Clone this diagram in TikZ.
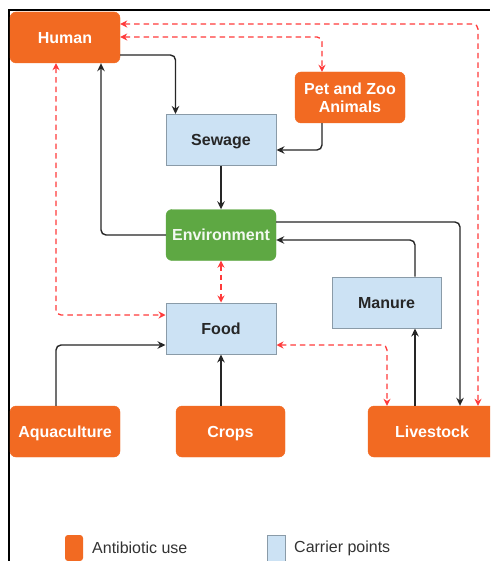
\documentclass[tikz,border=0pt]{standalone}
\usepackage{fontspec}
\setmainfont{Liberation Sans}
\usetikzlibrary{arrows.meta}
\definecolor{orng}{HTML}{F26A22}
\definecolor{grn}{HTML}{5EA843}
\definecolor{lblue}{HTML}{CCE2F4}
\definecolor{bgray}{HTML}{8A9BA8}
\definecolor{rdash}{HTML}{FF3B3B}
\tikzset{
  base/.style={minimum width=110pt, minimum height=51pt, inner sep=0pt, align=center,
    text height=11.5pt, text depth=0pt,
    font=\fontsize{16}{18}\selectfont\bfseries},
  use/.style={base, fill=orng, draw=orng, rounded corners=6pt, text=white},
  envbox/.style={base, fill=grn, draw=grn, rounded corners=6pt, text=white!92!grn},
  carrier/.style={base, fill=lblue, draw=bgray, line width=1pt, text=black!85},
  arr/.style={draw=black!85, line width=1.4pt, rounded corners=5pt, -{Stealth[length=8pt,width=7.5pt]}},
  rarr/.style={draw=rdash, line width=1.3pt, dash pattern=on 5.5pt off 4pt, rounded corners=5pt,
    {Stealth[length=7pt,width=7pt]}-{Stealth[length=7pt,width=7pt]}},
  legtext/.style={anchor=west, font=\fontsize{16}{18}\selectfont, text=black!80, inner sep=0pt}
}
\begin{document}
\begin{tikzpicture}[x=1pt,y=-1pt]
\useasboundingbox (0,0) rectangle (490,561);
\clip (0,0) rectangle (490,561);
\fill[white] (0,0) rectangle (490,561);
\draw[line width=1.2pt] (9,561) -- (9,10) -- (490,10);

\node[use] (human) at (65,37.5) {Human};
\node[use, text height=, text depth=] (pet) at (350,97.5) {Pet and Zoo\\Animals};
\node[carrier] (sewage) at (221,140) {Sewage};
\node[envbox] (env) at (221,235) {Environment};
\node[carrier, minimum width=109pt] (manure) at (386.5,302.5) {Manure};
\node[carrier] (food) at (221,328.5) {Food};
\node[use] (aqua) at (65,431.5) {Aquaculture};
\node[use, minimum width=109pt] (crops) at (230.5,431.5) {Crops};
\node[use, minimum width=128pt] (live) at (432,431.5) {Livestock};

% black flows
\draw[arr] ([yshift=-17.5pt]human.east) -| ([xshift=10pt]sewage.north west);
\draw[arr] ([xshift=-28pt]pet.south) |- ([yshift=-10pt]sewage.east);
\draw[arr] (sewage) -- (env);
\draw[arr] (env.west) -| ([xshift=36pt]human.south);
\draw[arr] ([yshift=13pt]env.east) -| ([xshift=28pt]live.north);
\draw[arr] ([xshift=28.5pt]manure.north) |- ([yshift=-5pt]env.east);
\draw[arr] ([xshift=-17pt]live.north) -- ([xshift=28.5pt]manure.south);
\draw[arr, line width=1.8pt] ([xshift=-9.5pt]crops.north) -- (food.south);
\draw[arr] ([xshift=-9pt]aqua.north) |- ([yshift=-16.5pt]food.west);

% red dashed two-way
\draw[rarr] ([yshift=13.5pt]human.east) -| ([xshift=46pt]live.north);
\draw[rarr] ([yshift=0.5pt]human.east) -| ([xshift=-28pt]pet.north);
\draw[rarr] ([xshift=-9pt]human.south) |- ([yshift=13.5pt]food.west);
\draw[rarr] (env) -- (food);
\draw[rarr] ([yshift=-16.5pt]food.east) -| ([xshift=-45pt]live.north);

% legend
\node[fill=orng, rounded corners=3pt, minimum width=18pt, minimum height=26pt, inner sep=0pt] (legA) at (74,548) {};
\node[legtext] (legAt) at (92,548) {Antibiotic use};
\node[fill=lblue, draw=bgray, line width=1pt, minimum width=18pt, minimum height=26pt, inner sep=0pt] (legC) at (276,548) {};
\node[legtext] (legCt) at (294,548) {Carrier points};
\end{tikzpicture}
\end{document}
